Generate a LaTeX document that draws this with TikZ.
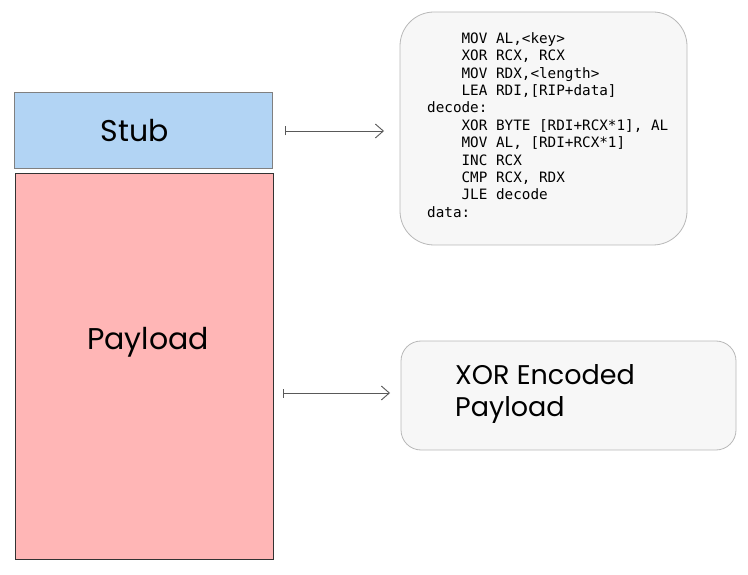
\documentclass[tikz,border=0pt]{standalone}
\usepackage{fontspec}
\setmainfont{Poppins}
\setmonofont{DejaVu Sans Mono}
\usetikzlibrary{arrows.meta}
\tikzset{
  block/.style={draw, line width=0.9pt, inner sep=0pt},
  hand/.style={inner sep=0pt, font=\fontsize{30}{34}\selectfont},
  panel/.style={draw=black!28, fill=black!3, line width=0.8pt, inner sep=0pt},
  link/.style={draw=black!65, line width=0.9pt, {Bar[width=9pt]}-{Straight Barb[length=8pt,width=14pt,line width=0.9pt]}},
}
\begin{document}
\begin{tikzpicture}[x=1pt,y=1pt]
\useasboundingbox (0,0) rectangle (748,-575);
\node[block, draw=black!50, fill={rgb,255:red,178;green,212;blue,244}, minimum width=258, minimum height=76] (stub) at (143,-130) {};
\node[hand] (stubtext) at (135,-131) {Stub};
\node[block, draw=black!80, fill={rgb,255:red,255;green,182;blue,182}, minimum width=258, minimum height=386] (payload) at (144,-366) {};
\node[hand] (payloadtext) at (148,-342) {Payload};
\node[panel, rounded corners=34pt, minimum width=287, minimum height=233] (code) at (543.5,-128.5) {};
\node[anchor=west, align=left, inner sep=0pt, font=\ttfamily\fontsize{14.3}{17.4}\selectfont] (codetext) at (427,-125) {%
\ \ \ \ MOV AL,<key>\\
\ \ \ \ XOR RCX, RCX\\
\ \ \ \ MOV RDX,<length>\\
\ \ \ \ LEA RDI,[RIP+data]\\
decode:\\
\ \ \ \ XOR BYTE [RDI+RCX*1], AL\\
\ \ \ \ MOV AL, [RDI+RCX*1]\\
\ \ \ \ INC RCX\\
\ \ \ \ CMP RCX, RDX\\
\ \ \ \ JLE decode\\
data:};
\node[panel, rounded corners=20pt, minimum width=335, minimum height=109] (xor) at (568.5,-395.5) {};
\node[anchor=west, align=left, inner sep=0pt, font=\fontsize{27}{32}\selectfont] (xortext) at (455,-394) {XOR Encoded\\Payload};
\coordinate (a1s) at (285,-131);
\coordinate (a1e) at (384,-131);
\coordinate (a2s) at (283,-393);
\coordinate (a2e) at (390,-393);
\draw[link] (a1s) -- (a1e);
\draw[link] (a2s) -- (a2e);
\end{tikzpicture}
\end{document}
